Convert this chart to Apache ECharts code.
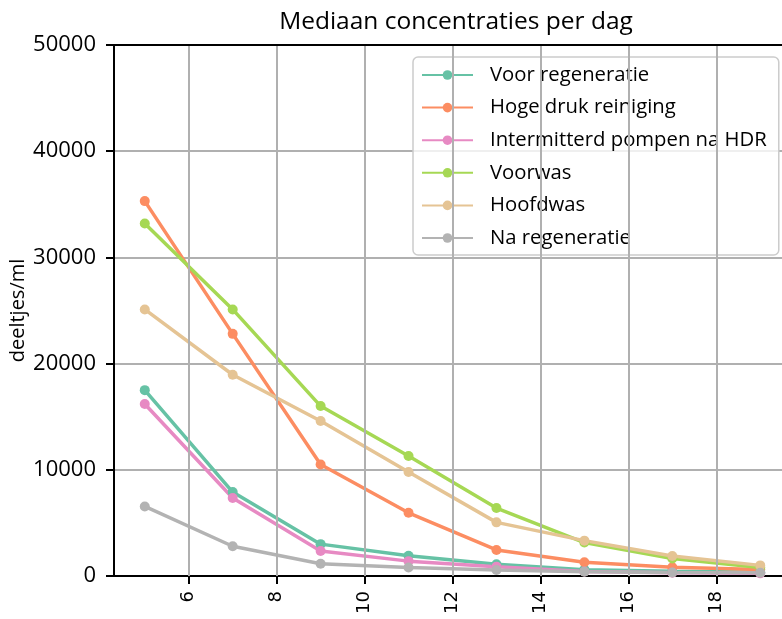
<!DOCTYPE html>
<html>
<head>
<meta charset="utf-8">
<script src="https://cdn.jsdelivr.net/npm/echarts@6/dist/echarts.min.js"></script>
<style>
  html, body { margin: 0; padding: 0; background: #fff; }
  #chart { width: 782px; height: 619px; }
</style>
</head>
<body>
<div id="chart"></div>
<script>
// Days on which the median concentration was measured
const days = [5, 7, 9, 11, 13, 15, 17, 19];
const xTickValues = [6, 8, 10, 12, 14, 16, 18];

// Median particle concentrations (deeltjes/ml) per phase
const voorRegeneratie = [17500, 7900, 3000, 1900, 1100, 600, 450, 350];
const hogeDrukReiniging = [35300, 22800, 10500, 5950, 2450, 1300, 820, 620];
const intermitterdPompen = [16200, 7350, 2350, 1400, 880, 420, 300, 250];
const voorwas = [33200, 25100, 16000, 11300, 6400, 3150, 1650, 800];
const hoofdwas = [25100, 18950, 14600, 9800, 5050, 3330, 1880, 1000];
const naRegeneratie = [6550, 2800, 1150, 800, 560, 400, 330, 300];

const seriesNames = [
  'Voor regeneratie', 'Hoge druk reiniging', 'Intermitterd pompen na HDR',
  'Voorwas', 'Hoofdwas', 'Na regeneratie'
];
const seriesValues = [
  voorRegeneratie, hogeDrukReiniging, intermitterdPompen,
  voorwas, hoofdwas, naRegeneratie
];
const colors = ['#66c2a5', '#fc8d62', '#e78ac3', '#a6d854', '#e5c494', '#b3b3b3'];

const uiFont = '"Open Sans", sans-serif';
const gridColor = '#b0b0b0';

const chart = echarts.init(document.getElementById('chart'), null, { renderer: 'canvas' });

const series = seriesNames.map((name, i) => ({
  name: name,
  type: 'line',
  data: days.map((d, j) => [d, seriesValues[i][j]]),
  symbol: 'circle',
  symbolSize: 10,
  lineStyle: { width: 3.5, color: colors[i] },
  itemStyle: { color: colors[i] },
  emphasis: { disabled: true },
  z: 3
}));

chart.setOption({
  animation: false,
  backgroundColor: '#fff',
  title: {
    text: 'Mediaan concentraties per dag',
    left: 451,
    textAlign: 'center',
    top: 5,
    textStyle: { fontFamily: uiFont, fontSize: 24.5, fontWeight: 'normal', color: '#000' }
  },
  grid: {
    left: 114, right: -9, top: 45, bottom: 43,
    containLabel: false,
    outerBoundsMode: 'none'
  },
  legend: {
    orient: 'vertical',
    left: 413,
    top: 57,
    padding: [8, 12, 7, 8],
    itemWidth: 51,
    itemHeight: 12,
    itemGap: 12.6,
    backgroundColor: 'rgba(255,255,255,0.8)',
    borderColor: '#cccccc',
    borderWidth: 1.5,
    borderRadius: 5,
    textStyle: { fontFamily: uiFont, fontSize: 20.3, color: '#000', padding: [0, 0, 0, 12] },
    data: seriesNames
  },
  xAxis: {
    type: 'value',
    min: 4.3,
    max: 19.7,
    axisLine: { show: true, onZero: false, lineStyle: { color: '#000', width: 2 } },
    axisTick: { show: true, length: 8, lineStyle: { color: '#000', width: 2 }, customValues: xTickValues },
    axisLabel: {
      rotate: 90,
      margin: 15,
      fontFamily: 'DejaVu Sans',
      fontSize: 18,
      color: '#000',
      customValues: xTickValues
    },
    splitLine: { show: false }
  },
  yAxis: {
    type: 'value',
    name: 'deeltjes/ml',
    nameLocation: 'middle',
    nameGap: 86,
    nameMoveOverlap: false,
    nameTextStyle: { fontFamily: uiFont, fontSize: 20, color: '#000' },
    min: 0,
    max: 50000,
    interval: 10000,
    axisLine: { show: true, lineStyle: { color: '#000', width: 2 } },
    axisTick: { show: true, length: 8, lineStyle: { color: '#000', width: 2 } },
    axisLabel: {
      margin: 18,
      fontFamily: uiFont,
      fontSize: 22,
      color: '#000',
      formatter: v => String(v)
    },
    splitLine: { show: true, lineStyle: { color: gridColor, width: 2 } }
  },
  series: series.concat([{
    // vertical grid lines at the labelled days, plus the top frame line
    type: 'line',
    data: [],
    silent: true,
    z: 1,
    markLine: {
      silent: true,
      symbol: 'none',
      label: { show: false },
      lineStyle: { color: gridColor, width: 2, type: 'solid' },
      data: xTickValues.map(v => ({ xAxis: v }))
        .concat([{ yAxis: 50000, lineStyle: { color: '#000', width: 2 } }])
    }
  }])
});
</script>
</body>
</html>
